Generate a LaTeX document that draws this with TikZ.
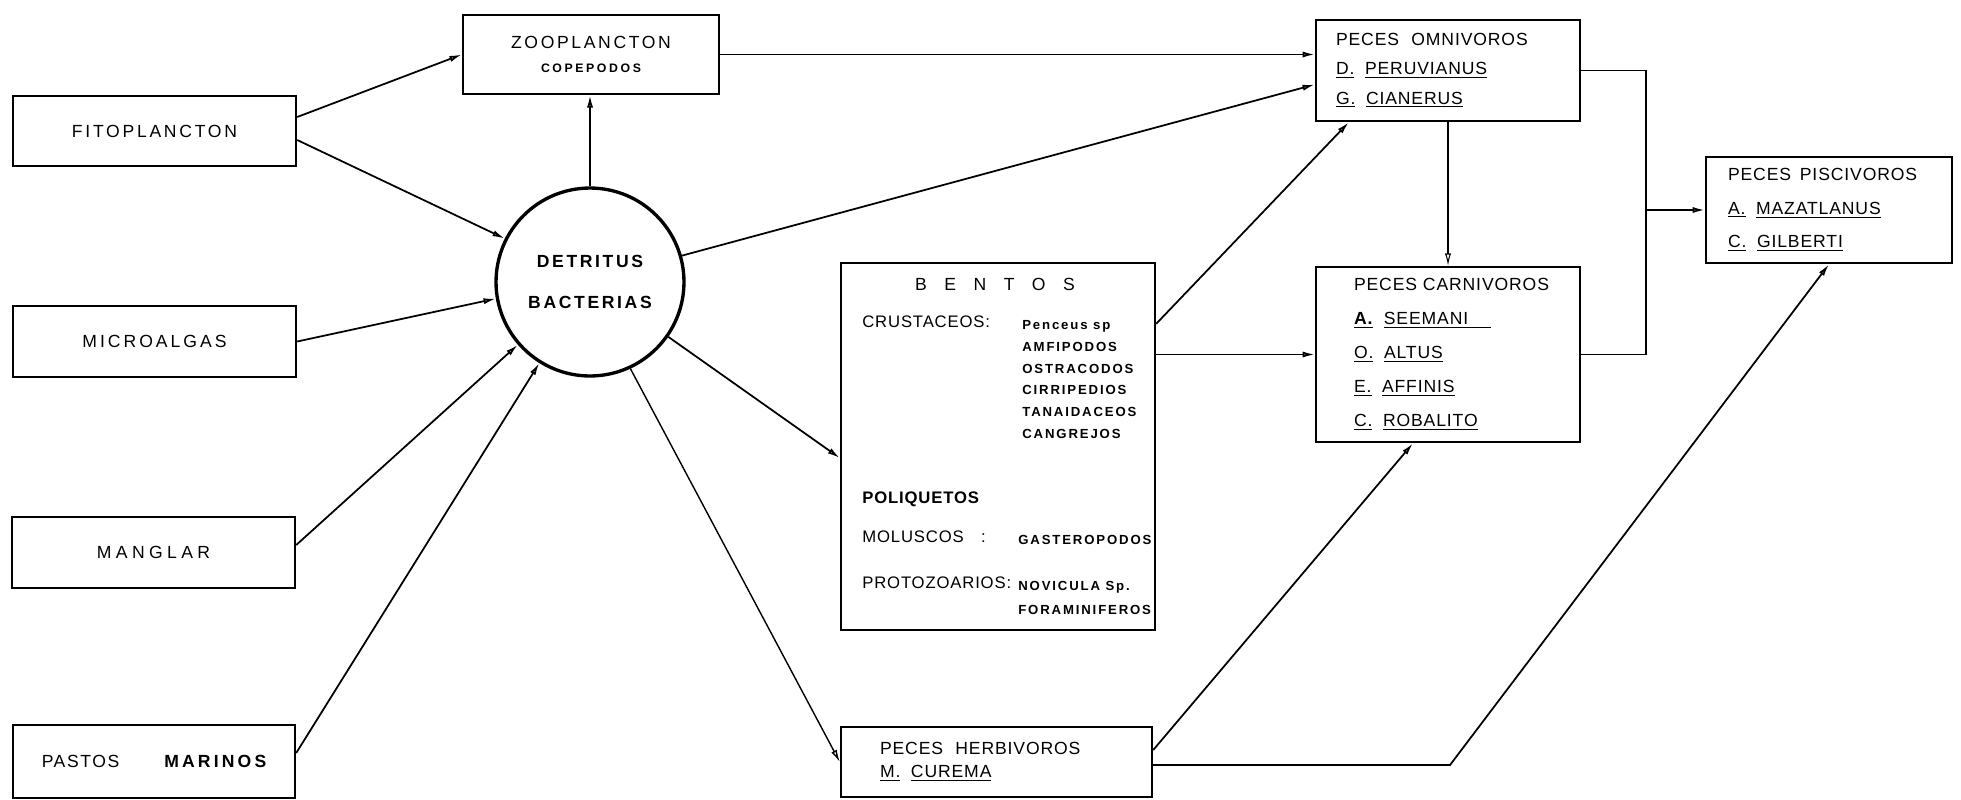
\documentclass[tikz,border=0pt]{standalone}
\usepackage{fontspec}
\setmainfont{Liberation Sans}[LetterSpace=5]
\usetikzlibrary{arrows.meta,calc,positioning}

\newcommand{\subr}[1]{\underline{#1}}
\newcommand{\esp}{\hspace{0.6em}}
\newcommand{\sangria}{\hspace*{0.56cm}}

\begin{document}
\begin{tikzpicture}[x=0.02cm, y=-0.02cm,
                    caja/.style = {draw, line width=1.4pt, inner sep=0pt},
                    rotulo/.style = {font={\fontsize{10}{12}\selectfont\addfontfeature{LetterSpace=#1}}},
                    rotulo/.default = 15,
                    izq/.style = {font={\fontsize{9.5}{11}\selectfont}, inner sep=0pt},
                    lista/.style = {font={\bfseries\fontsize{7.5}{12.4}\selectfont\addfontfeature{LetterSpace=14}}, align=left, inner sep=0pt},
                    pez/.style = {caja, align=left, font={\fontsize{10}{#1}\selectfont}},
                    flecha/.style = {-{Latex[open, length=7pt, width=3.5pt]}, line width=1pt},
                    linea/.style = {line width=1pt}
                ]

                \useasboundingbox (0,0) rectangle (1961,799);

                % fuentes
                \node[caja, rotulo=15.5, minimum width=5.66cm, minimum height=1.40cm] (fito) at (154.5,131) {FITOPLANCTON};
                \node[caja, rotulo=17, minimum width=5.66cm, minimum height=1.42cm] (micro) at (154.5,341.5) {MICROALGAS};
                \node[caja, rotulo=25, minimum width=5.66cm, minimum height=1.42cm] (manglar) at (153.5,552.5) {MANGLAR};
                \node[caja, rotulo=9, minimum width=5.64cm, minimum height=1.46cm] (pastos) at (154,761.5) {PASTOS\hspace{9mm}{\bfseries\addfontfeature{LetterSpace=18}MARINOS}};

                \node[caja, rotulo, minimum width=5.12cm, minimum height=1.58cm, align=center] (zoopl) at (591,54.5) {ZOOPLANCTON\\[2pt]{\bfseries\fontsize{7}{9}\selectfont\addfontfeature{LetterSpace=21}COPEPODOS}};

                \node[circle, draw, line width=1.9pt, minimum size=3.76cm, inner sep=0pt, align=center,
                      font={\bfseries\fontsize{10}{23}\selectfont\addfontfeature{LetterSpace=15}}] (det) at (590,282) {DETRITUS\\BACTERIAS};

                % bentos
                \node[caja, minimum width=6.28cm, minimum height=7.34cm] (bentos) at (998,446.5) {};
                \node[rotulo=100] (titulo) at (995,284) {BENTOS};
                \node[izq, anchor=west] (crust) at (862,322) {CRUSTACEOS:};
                \node[lista, anchor=north west] (crustlista) at (1022,320) {Penceus sp\\AMFIPODOS\\OSTRACODOS\\CIRRIPEDIOS\\TANAIDACEOS\\CANGREJOS};
                \node[izq, anchor=west, font={\bfseries\fontsize{9.5}{11}\selectfont}] (poli) at (862,499) {POLIQUETOS};
                \node[izq, anchor=west] (molus) at (862,537) {MOLUSCOS\hspace{3.5mm}:};
                \node[lista, anchor=west] (gaster) at (1018,540) {GASTEROPODOS};
                \node[izq, anchor=west] (proto) at (862,583) {PROTOZOARIOS:};
                \node[lista, anchor=north west, font={\bfseries\fontsize{7.5}{13.6}\selectfont\addfontfeature{LetterSpace=14}}] (protolista) at (1018,581) {NOVICULA Sp.\\FORAMINIFEROS};

                % peces
                \node[pez=13, text width=4.66cm, inner xsep=0.78cm, minimum height=1.40cm] (herbi) at (996.5,762)
                    {PECES\hspace{0.7em}HERBIVOROS\\\subr{M.}\esp\subr{CUREMA}};
                \node[pez=16.7, text width=4.48cm, inner xsep=0.4cm, minimum height=2.02cm] (omni) at (1448,70.5)
                    {PECES\hspace{0.7em}OMNIVOROS\\\subr{D.}\esp\subr{PERUVIANUS}\\\subr{G.}\esp\subr{CIANERUS}};
                \node[pez=19.4, text width=4.88cm, inner xsep=0.2cm, minimum height=3.50cm] (carni) at (1448,354.5)
                    {\sangria PECES CARNIVOROS\\\sangria\subr{\textbf{A.}}\esp\subr{SEEMANI\hspace{1.3em}}\\\sangria\subr{O.}\esp\subr{ALTUS}\\\sangria\subr{E.}\esp\subr{AFFINIS}\\\sangria\subr{C.}\esp\subr{ROBALITO}};
                \node[pez=19, text width=4.04cm, inner xsep=0.44cm, minimum height=2.12cm] (pisci) at (1829,210)
                    {PECES\hspace{0.5em}PISCIVOROS\\\subr{A.}\esp\subr{MAZATLANUS}\\\subr{C.}\esp\subr{GILBERTI}};

                % flujos
                \draw[flecha] ($(fito.east)+(0,-14)$) -- (zoopl.west);
                \draw[flecha] ($(fito.east)+(0,9)$) -- (det.153);
                \draw[flecha] (micro.east) -- (det.190);
                \draw[flecha] ($(manglar.east)+(0,-7.5)$) -- (det.221);
                \draw[flecha] ($(pastos.east)+(0,-8.5)$) -- (det.238);
                \draw[flecha] (det.north) -- (det.north |- zoopl.south);

                \draw[flecha] (zoopl.east) -- (zoopl.east -| omni.west);
                \draw[flecha] (det.16) -- ($(omni.west)+(0,14)$);
                \draw[flecha] (det.-35) -- ($(bentos.west)+(0,11.5)$);
                \draw[flecha, line width=0.8pt] (det.-65) -- (herbi.west);

                \draw[flecha] ($(bentos.north east)+(0,62)$) -- ($(omni.south west)+(34,0)$);
                \draw[flecha] (bentos.east |- carni.west) -- (carni.west);
                \draw[flecha, line width=0.6pt] (omni.south) -- (carni.north);

                \coordinate (union) at ($(pisci.west)+(-59,0)$);
                \draw[linea] (omni.east) -| (union);
                \draw[linea] (carni.east) -| (union);
                \draw[flecha] (union) -- (pisci.west);

                \draw[flecha] ($(herbi.east)+(0,-12)$) -- ($(carni.south)+(-35,0)$);
                \coordinate (codo) at (1450,765);
                \draw[flecha] ($(herbi.east)+(0,3)$) -- (codo) -- (pisci.south);

            \end{tikzpicture}
\end{document}
